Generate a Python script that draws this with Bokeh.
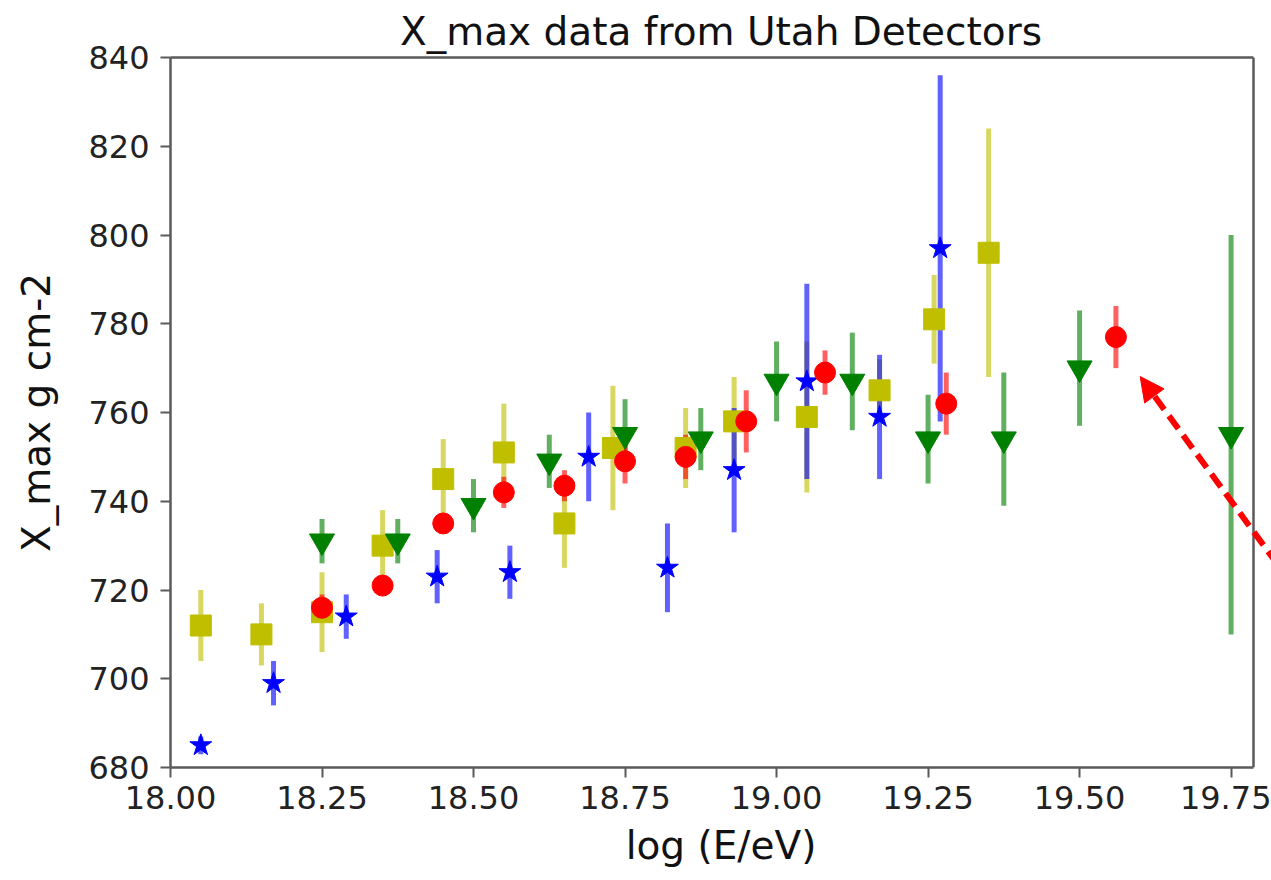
from bokeh.plotting import figure
from bokeh.models import (FixedTicker, NumeralTickFormatter, Arrow, NormalHead, ColumnDataSource,
                          LinearAxis, Span)
from bokeh.embed import file_html
from bokeh.resources import INLINE

# ---- data ----
yellow_x = [18.05, 18.15, 18.25, 18.35, 18.45, 18.55, 18.65, 18.73, 18.85, 18.93, 19.05, 19.17, 19.26, 19.35]
yellow_y = [712, 710, 715, 730, 745, 751, 735, 752, 752, 758, 759, 765, 781, 796]
yellow_err = [8, 7, 9, 8, 9, 11, 10, 14, 9, 10, 17, 7, 10, 28]

blue_x = [18.05, 18.17, 18.29, 18.44, 18.56, 18.69, 18.82, 18.93, 19.05, 19.17, 19.27]
blue_y = [685, 699, 714, 723, 724, 750, 725, 747, 767, 759, 797]
blue_err = [2, 5, 5, 6, 6, 10, 10, 14, 22, 14, 39]

green_x = [18.25, 18.375, 18.5, 18.625, 18.75, 18.875, 19.0, 19.125, 19.25, 19.375, 19.5, 19.75]
green_y = [731, 731, 739, 749, 755, 754, 767, 767, 754, 754, 770, 755]
green_err = [5, 5, 6, 6, 8, 7, 9, 11, 10, 15, 13, 45]

red_x = [18.25, 18.35, 18.45, 18.55, 18.65, 18.75, 18.85, 18.95, 19.08, 19.28, 19.56]
red_y = [716, 721, 735, 742, 743.5, 749, 750, 758, 769, 762, 777]
red_err = [3, 2, 2, 3.5, 3.5, 5, 5, 7, 5, 7, 7]

x_ticks = [18.0, 18.25, 18.5, 18.75, 19.0, 19.25, 19.5, 19.75]
y_ticks = [680, 700, 720, 740, 760, 780, 800, 820, 840]

axes_x_limits = (18.0, 19.787)   # the boxed axes area
canvas_x_end = 19.8167           # drawing area continues to the page edge (for the arrow)
y_limits = (680, 840)

arrow_start = (19.85, 721.4)
arrow_end = (19.60, 768.1)

FONT = "DejaVu Sans"
SPINE = "#5a5a5a"

p = figure(width=1271, height=880, x_range=(axes_x_limits[0], canvas_x_end), y_range=y_limits,
           output_backend="svg", toolbar_location=None,
           min_border_left=170, min_border_right=0, min_border_top=57, min_border_bottom=113,
           title="X_max data from Utah Detectors")
p.background_fill_color = "white"
p.border_fill_color = "white"
p.grid.visible = False
p.outline_line_color = None

p.title.align = "center"
p.title.text_font = FONT
p.title.text_font_size = "39px"
p.title.text_font_style = "normal"
p.title.text_color = "#111111"
p.title.standoff = 8

for ax in (p.xaxis[0], p.yaxis[0]):
    ax.axis_line_color = SPINE
    ax.axis_line_width = 2.5
    ax.major_tick_line_color = SPINE
    ax.major_tick_line_width = 2
    ax.major_tick_out = 10
    ax.major_tick_in = 0
    ax.minor_tick_line_color = None
    ax.major_label_text_font = FONT
    ax.major_label_text_font_size = "32px"
    ax.major_label_text_color = "#222222"
    ax.axis_label_text_font = FONT
    ax.axis_label_text_font_size = "39px"
    ax.axis_label_text_font_style = "normal"
    ax.axis_label_text_color = "#111111"

p.xaxis.bounds = axes_x_limits
p.xaxis.ticker = FixedTicker(ticks=x_ticks)
p.xaxis.formatter = NumeralTickFormatter(format="0.00")
p.yaxis.ticker = FixedTicker(ticks=y_ticks)
p.xaxis.axis_label = "log (E/eV)"
p.yaxis.axis_label = "X_max g cm-2"
p.xaxis.major_label_standoff = 8
p.yaxis.major_label_standoff = 11
p.xaxis.axis_label_standoff = 11
p.yaxis.axis_label_standoff = 26

# top spine (axis line only)
top = LinearAxis(bounds=axes_x_limits, ticker=FixedTicker(ticks=[]), axis_line_color=SPINE,
                 axis_line_width=2.5, major_tick_out=0, major_tick_in=0, minor_tick_line_color=None,
                 major_label_standoff=0, major_label_text_font_size="0px")
p.add_layout(top, "above")

# right spine
p.add_layout(Span(location=axes_x_limits[1], dimension="height", line_color=SPINE, line_width=2.5))

series = [
    (yellow_x, yellow_y, yellow_err, "#bfbf00", "square", 21),
    (blue_x, blue_y, blue_err, "#0000ff", "star", 23),
    (green_x, green_y, green_err, "#008000", "inverted_triangle", 25),
    (red_x, red_y, red_err, "#ff0000", "circle", 21),
]

# error bars
for xs, ys, es, col, mk, sz in series:
    src = ColumnDataSource(dict(x=xs, lo=[y - e for y, e in zip(ys, es)], hi=[y + e for y, e in zip(ys, es)]))
    p.segment(x0="x", y0="lo", x1="x", y1="hi", source=src, line_color=col, line_width=5, line_alpha=0.62)

# markers
for xs, ys, es, col, mk, sz in series:
    src = ColumnDataSource(dict(x=xs, y=ys))
    p.scatter(x="x", y="y", source=src, marker=mk, size=sz, fill_color=col, line_color=col, line_width=1)

arrow = Arrow(x_start=arrow_start[0], y_start=arrow_start[1], x_end=arrow_end[0], y_end=arrow_end[1],
              line_color="#ff0000", line_width=6, line_dash="16 8",
              end=NormalHead(size=24, fill_color="#ff0000", line_color="#ff0000", line_width=1))
p.add_layout(arrow)

open("out.html", "w").write(file_html(p, INLINE))
